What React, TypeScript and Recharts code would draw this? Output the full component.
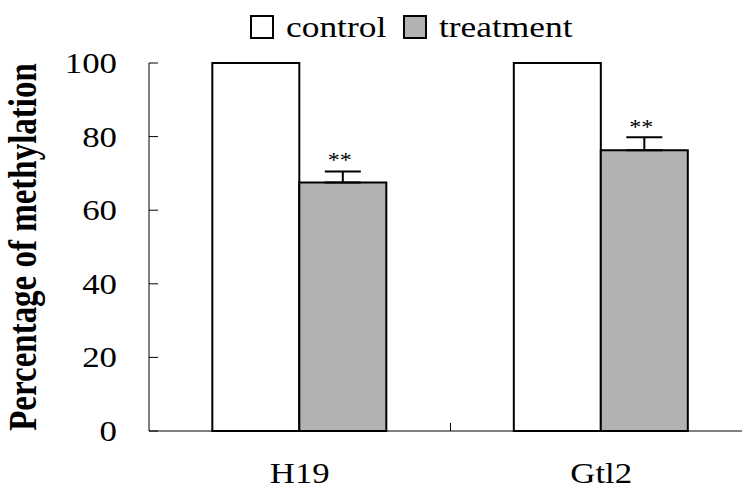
import React from 'react';
import { BarChart, Bar, XAxis, YAxis, ErrorBar, LabelList } from 'recharts';

const categories = ['H19', 'Gtl2'];
const controlValues = [100, 100];
const treatmentValues = [67.5, 76.3];
const treatmentErrors = [3, 3.5];
const yTicks = [0, 20, 40, 60, 80, 100];
const seriesNames = ['control', 'treatment'];
const significance = ['**', '**'];

const data = categories.map((name, i) => ({
  name,
  control: controlValues[i],
  treatment: treatmentValues[i],
  err: [0, treatmentErrors[i]],
}));

const FONT = '"Liberation Serif", "Times New Roman", serif';
const GREY = '#b2b2b2';

const YTick = (props: any) => {
  const { x, y, payload } = props;
  return (
    <g>
      <line x1={x} x2={x + 9} y1={y} y2={y} stroke="#000" strokeWidth={1} />
      <text
        transform={`translate(${x - 32},${y + 10}) scale(1.2,1)`}
        textAnchor="end"
        fontFamily={FONT}
        fontSize={29}
        fill="#000"
      >
        {payload.value}
      </text>
    </g>
  );
};

const XTick = (props: any) => {
  const { x, y, payload, index } = props;
  const half = payload.offset || 150;
  return (
    <g>
      {index < categories.length - 1 && (
        <line x1={x + half} x2={x + half} y1={y} y2={y - 8} stroke="#000" strokeWidth={1} />
      )}
      <text
        transform={`translate(${x},${y + 52}) scale(1.2,1)`}
        textAnchor="middle"
        fontFamily={FONT}
        fontSize={29}
        fill="#000"
      >
        {payload.value}
      </text>
    </g>
  );
};

const StarLabel = (props: any) => {
  const { x, y, width, index } = props;
  return (
    <text
      transform={`translate(${x + width / 2 - 3},${y - 16}) scale(1.2,1)`}
      textAnchor="middle"
      fontFamily={FONT}
      fontSize={20}
      fill="#000"
    >
      {significance[index]}
    </text>
  );
};

const YLabel = (props: any) => {
  const vb = props.viewBox || { y: 63, height: 368 };
  const cy = vb.y + vb.height / 2;
  return (
    <text
      transform={`translate(36,${cy}) scale(1.2,1) rotate(-90)`}
      textAnchor="middle"
      fontFamily={FONT}
      fontSize={33}
      fontWeight="bold"
      fill="#000"
    >
      Percentage of methylation
    </text>
  );
};

const Swatch = ({ fill }: { fill: string }) => (
  <span
    style={{
      display: 'inline-block',
      width: 20,
      height: 20,
      border: '2px solid #000',
      background: fill,
      marginRight: 12,
    }}
  />
);

const LegendBox: React.FC = () => (
  <div
    style={{
      position: 'absolute',
      top: 14,
      left: 250,
      display: 'flex',
      alignItems: 'center',
      fontFamily: FONT,
      fontSize: 29,
      color: '#000',
      lineHeight: '26px',
      zIndex: 2,
    }}
  >
    <Swatch fill="#fff" />
    <span style={{ display: 'inline-block', transform: 'scaleX(1.22)', transformOrigin: 'left', width: 117 }}>
      {seriesNames[0]}
    </span>
    <Swatch fill={GREY} />
    <span style={{ display: 'inline-block', transform: 'scaleX(1.22)', transformOrigin: 'left' }}>
      {seriesNames[1]}
    </span>
  </div>
);

export default function App() {
  return (
    <div
      style={{
        position: 'absolute',
        left: 0,
        top: 0,
        width: 742,
        height: 494,
        overflow: 'hidden',
        background: '#fff',
      }}
    >
      <LegendBox />
      <BarChart
        width={752}
        height={494}
        data={data}
        margin={{ top: 63, right: 0, left: 0, bottom: 0 }}
        barCategoryGap="21%"
        barGap={0}
      >
        <XAxis
          dataKey="name"
          height={63}
          axisLine={{ stroke: '#000', strokeWidth: 1 }}
          tickLine={false}
          tickSize={0}
          tickMargin={0}
          tick={<XTick />}
          interval={0}
        />
        <YAxis
          width={149}
          domain={[0, 100]}
          ticks={yTicks}
          axisLine={{ stroke: '#000', strokeWidth: 1 }}
          tickLine={false}
          tickSize={0}
          tickMargin={0}
          tick={<YTick />}
          interval={0}
          label={<YLabel />}
        />
        <Bar dataKey="control" fill="#fff" stroke="#000" strokeWidth={2} isAnimationActive={false} />
        <Bar dataKey="treatment" fill={GREY} stroke="#000" strokeWidth={2} isAnimationActive={false}>
          <ErrorBar dataKey="err" width={18} stroke="#000" strokeWidth={2} direction="y" />
          <LabelList dataKey="treatment" content={<StarLabel />} />
        </Bar>
      </BarChart>
    </div>
  );
}
